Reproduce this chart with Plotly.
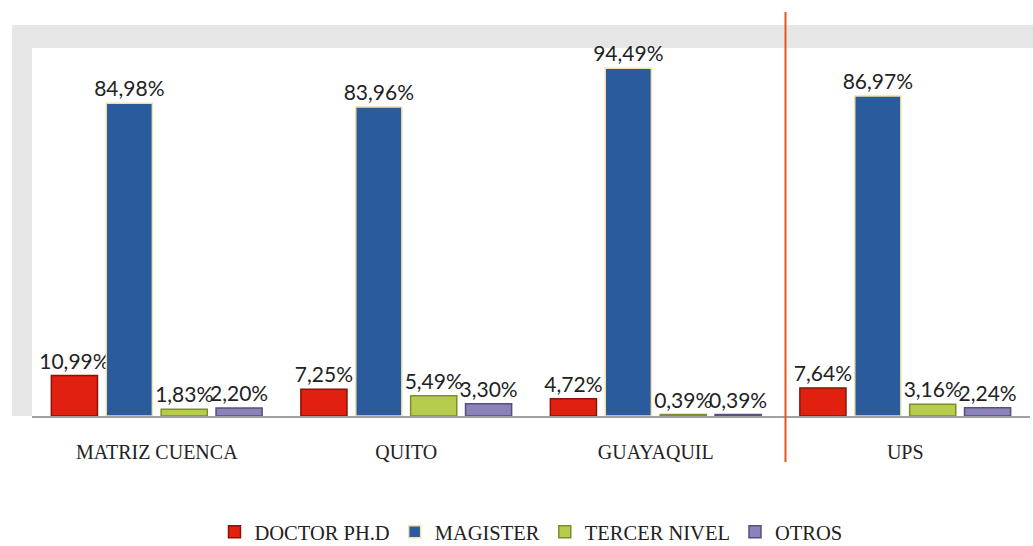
import plotly.graph_objects as go

categories = ["MATRIZ CUENCA", "QUITO", "GUAYAQUIL", "UPS"]
series_names = ["DOCTOR PH.D", "MAGISTER", "TERCER NIVEL", "OTROS"]
doctor = [10.99, 7.25, 4.72, 7.64]
magister = [84.98, 83.96, 94.49, 86.97]
tercer = [1.83, 5.49, 0.39, 3.16]
otros = [2.20, 3.30, 0.39, 2.24]

values = [doctor, magister, tercer, otros]
colors = ["#e2200f", "#2a5b9c", "#b6cc4c", "#8a82b8"]
edges = ["#8a1208", "#f0e2a8", "#7e8f2a", "#55507e"]

def fmt(v):
    return f"{v:.2f}".replace(".", ",") + "%"

fig = go.Figure()
for name, vals, c, e in zip(series_names, values, colors, edges):
    fig.add_trace(go.Bar(
        x=categories, y=vals, name=name,
        marker=dict(color=c, line=dict(color=e, width=1.5)),
        text=[fmt(v) for v in vals], textposition="outside",
        textfont=dict(family="Lato", size=21, color="#222222"),
        constraintext="none", cliponaxis=False,
    ))

# background frame
fig.add_shape(type="rect", xref="paper", yref="paper", x0=-0.02, x1=1.003, y0=0, y1=1.0625,
              fillcolor="#e6e6e6", line=dict(width=0), layer="below")
fig.add_shape(type="rect", xref="paper", yref="paper", x0=0, x1=1.003, y0=0, y1=1.0,
              fillcolor="#ffffff", line=dict(width=0), layer="below")
# separator line
fig.add_shape(type="line", xref="x", yref="paper", x0=2.52, x1=2.52, y0=-0.125, y1=1.098,
              line=dict(color="#e8541a", width=2))

fig.update_layout(
    width=1033, height=546,
    margin=dict(l=32, r=3, t=48, b=130, autoexpand=False),
    barmode="group", bargap=0.12, bargroupgap=0.16,
    paper_bgcolor="white", plot_bgcolor="rgba(0,0,0,0)",
    showlegend=True,
    legend=dict(orientation="h", x=0.5, xanchor="center", y=-0.315, yanchor="middle",
                font=dict(family="Liberation Serif", size=20.5, color="#222222"),
                itemwidth=30, traceorder="normal"),
    xaxis=dict(showline=True, linecolor="#a0a0a0", linewidth=1.5, ticks="",
               tickfont=dict(family="Liberation Serif", size=20, color="#222222"),
               ticklabelstandoff=17),
    yaxis=dict(range=[0, 100], visible=False, showgrid=False, zeroline=False),
    font=dict(family="Liberation Serif"),
)

fig.write_html("out.html", config={"displayModeBar": False},
               post_script="document.body.style.margin='0';")
